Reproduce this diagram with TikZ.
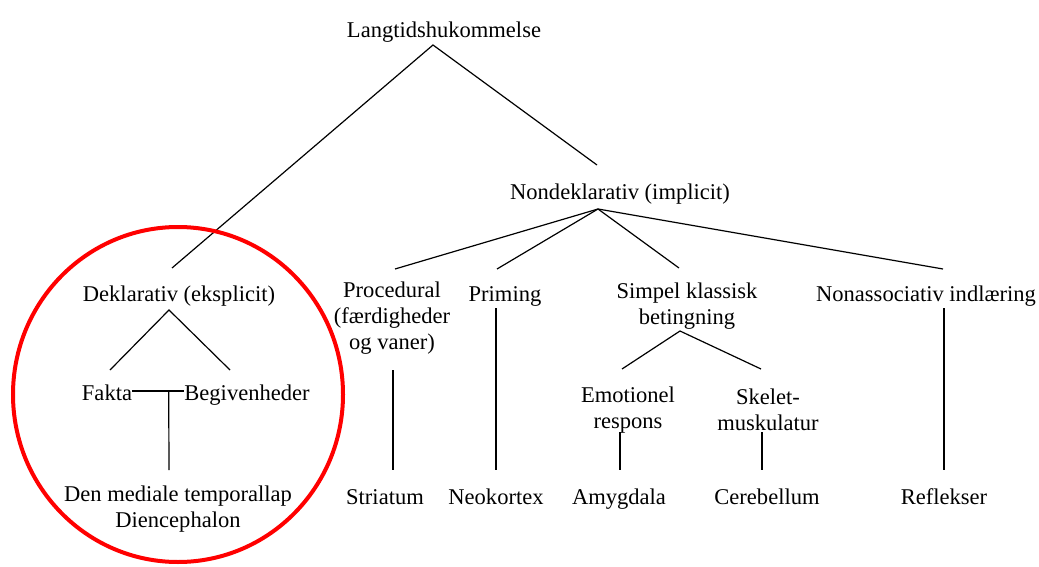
\documentclass[tikz,border=0pt]{standalone}
\usepackage{fontspec}
\setmainfont{Liberation Serif}
\begin{document}
\begin{tikzpicture}[x=0.75pt,y=-0.75pt,
  lbl/.style={inner sep=0pt, outer sep=0pt, font=\fontsize{16.9pt}{19.5pt}\selectfont, text height=11.5pt, text depth=0pt},
  mlbl/.style={inner sep=0pt, outer sep=0pt, font=\fontsize{16.9pt}{19.5pt}\selectfont, align=center},
  edge/.style={draw=black, line width=0.9pt},
  ring/.style={draw=red, line width=3pt}]
\useasboundingbox (0,0) rectangle (1039,567);
% nodes
\node[lbl] (L) at (444,30) {Langtidshukommelse};
\node[lbl] (N) at (620,192) {Nondeklarativ (implicit)};
\node[lbl] (D) at (179,294) {Deklarativ (eksplicit)};
\node[mlbl] (P) at (392,318) {Procedural\\(færdigheder\\og vaner)};
\node[lbl] (Pr) at (505,294) {Priming};
\node[mlbl] (S) at (687,306.5) {Simpel klassisk\\betingning};
\node[lbl] (NA) at (926,294) {Nonassociativ indlæring};
\node[lbl] (F) at (107,393) {Fakta};
\node[lbl] (B) at (247,393) {Begivenheder};
\node[mlbl] (M) at (178,509) {Den mediale temporallap\\Diencephalon};
\node[mlbl] (E) at (628,410) {Emotionel\\respons};
\node[mlbl] (SK) at (768,410) {Skelet-\\muskulatur};
\node[lbl] (St) at (385,497) {Striatum};
\node[lbl] (Ne) at (496,497) {Neokortex};
\node[lbl] (A) at (619,497) {Amygdala};
\node[lbl] (C) at (767,497) {Cerebellum};
\node[lbl] (R) at (944,497) {Reflekser};
% connectors
\draw[edge] ([shift={(-7,-26)}]D.center) -- ([shift={(-11,15)}]L.center) -- ([shift={(-23,-27)}]N.center);
\draw[edge] ([shift={(-22,17)}]N.center) -- ([shift={(3,-49)}]P.center);
\draw[edge] ([shift={(-22,17)}]N.center) -- ([shift={(-8,-25)}]Pr.center);
\draw[edge] ([shift={(-22,17)}]N.center) -- ([shift={(-8,-38.5)}]S.center);
\draw[edge] ([shift={(-22,17)}]N.center) -- ([shift={(17,-25)}]NA.center);
\draw[edge] ([shift={(3,-23)}]F.center) -- ([shift={(-10,16)}]D.center) -- ([shift={(-17,-23)}]B.center);
\draw[edge] ([yshift=1.5pt]F.east) -- coordinate[pos=0.7] (FB) ([yshift=1.5pt]B.west);
\draw[edge] (FB) -- ([shift={(-9,-39)}]M.center);
\draw[edge] ([shift={(1,52)}]P.center) -- ([shift={(8,-27)}]St.center);
\draw[edge] ([shift={(-9,14)}]Pr.center) -- ([shift={(0,-27)}]Ne.center);
\draw[edge] ([shift={(-6,-41)}]E.center) -- ([shift={(-7,24.5)}]S.center) -- ([shift={(-7,-41)}]SK.center);
\draw[edge] ([shift={(-8,22)}]E.center) -- ([shift={(1,-27)}]A.center);
\draw[edge] ([shift={(-6,22)}]SK.center) -- ([shift={(-5,-27)}]C.center);
\draw[edge] ([shift={(18,14)}]NA.center) -- ([shift={(0,-27)}]R.center);
% red ring
\draw[ring] (178,394.5) ellipse [x radius=165, y radius=167.5];
\end{tikzpicture}
\end{document}
